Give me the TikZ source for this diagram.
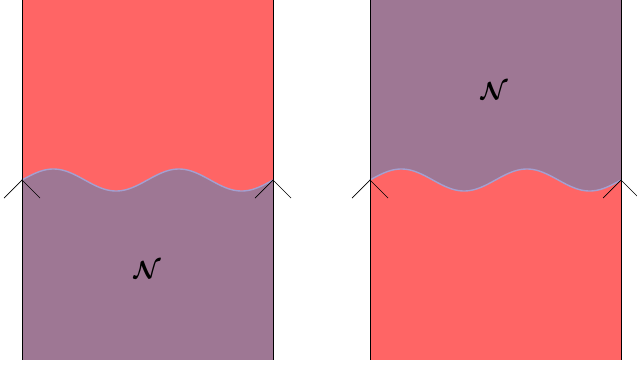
\documentclass[tikz,border=0pt]{standalone}
\usepackage{amsmath,amssymb}
\usepackage{xcolor}
\usetikzlibrary{calc}
\definecolor{hot}{HTML}{FF6565}
\definecolor{mauve}{HTML}{9E7794}
\definecolor{seam}{HTML}{A3A0D2}

\begin{document}
\begin{tikzpicture}[x=1bp,y=-1bp,
   wall/.style={draw=black,line width=0.9pt},
   seamline/.style={draw=seam,line width=1.4pt},
   tick/.style={draw=black,line width=0.7pt},
   lbl/.style={font=\fontsize{29}{30}\selectfont,inner sep=0pt}]
  \useasboundingbox (0,0) rectangle (637,365);
  % left panel: hot above, N below
  \fill[mauve] (22,0) rectangle (273,360);
  \fill[hot] (22,0) -- (273,0) -- (273,180)
     -- plot[domain=251:0,samples=120] ({22+\x},{180-11*sin(2.8685*\x)}) -- cycle;
  \draw[seamline] plot[domain=0:251,samples=120] ({22+\x},{180-11*sin(2.8685*\x)});
  \draw[wall] (22,0) -- (22,360);
  \draw[wall] (273,0) -- (273,360);
  \node[lbl] (nl) at (147,270) {$\boldsymbol{\mathcal{N}}$};
  % right panel: N above, hot below
  \fill[hot] (370,0) rectangle (621,360);
  \fill[mauve] (370,0) -- (621,0) -- (621,180)
     -- plot[domain=251:0,samples=120] ({370+\x},{180-11*sin(2.8685*\x)}) -- cycle;
  \draw[seamline] plot[domain=0:251,samples=120] ({370+\x},{180-11*sin(2.8685*\x)});
  \draw[wall] (370,0) -- (370,360);
  \draw[wall] (621,0) -- (621,360);
  \node[lbl] (nr) at (494,91) {$\boldsymbol{\mathcal{N}}$};
  % corner ticks
  \foreach \cx in {22,273,370,621}{
    \coordinate (t\cx) at (\cx,180);
    \draw[tick] ($(t\cx)+(-18,18)$) -- (t\cx) -- ($(t\cx)+(18,18)$);
  }
\end{tikzpicture}
\end{document}
